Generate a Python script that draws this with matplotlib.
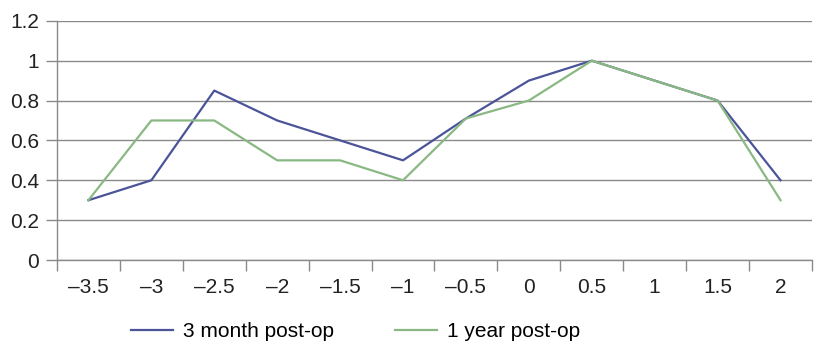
import numpy as np
import matplotlib
matplotlib.use("Agg")
import matplotlib.pyplot as plt

#---------------------------DATA------------------------------------
categories = ["–3.5", "–3", "–2.5", "–2", "–1.5", "–1", "–0.5", "0", "0.5", "1", "1.5", "2"]
three_month = [0.30, 0.40, 0.85, 0.70, 0.60, 0.50, 0.71, 0.90, 1.00, 0.90, 0.80, 0.40]
one_year = [0.30, 0.70, 0.70, 0.50, 0.50, 0.40, 0.71, 0.80, 1.00, 0.90, 0.80, 0.30]
y_ticks = [0, 0.2, 0.4, 0.6, 0.8, 1, 1.2]
y_labels = ["0", "0.2", "0.4", "0.6", "0.8", "1", "1.2"]

plt.rcParams['font.family'] = ['Liberation Sans', 'DejaVu Sans']

fig = plt.figure(figsize=(8.14, 3.41), dpi=100)
ax = fig.add_axes([0.070, 0.2375, 0.9275, 0.7015])

x = np.arange(len(categories))
gray = "#8a8a8a"
fs = 15

ax.plot(x, three_month, color="#4b5499", lw=1.6, label="3 month post-op")
ax.plot(x, one_year, color="#8ab883", lw=1.6, label="1 year post-op")

ax.set_xlim(-0.5, len(categories) - 0.5)
ax.set_ylim(0, 1.2)
ax.set_yticks(y_ticks)
ax.set_yticklabels(y_labels)
ax.yaxis.grid(True, color=gray, lw=1.0)
ax.set_axisbelow(True)

# category ticks between labels
ax.set_xticks(np.arange(-0.5, len(categories) + 0.5, 1.0))
ax.set_xticklabels([])
ax.set_xticks(x, minor=True)
ax.set_xticklabels(categories, minor=True)
ax.tick_params(axis="x", which="major", length=8, color=gray, width=1.0, direction="out")
ax.tick_params(axis="x", which="minor", length=0, labelsize=fs, pad=13, colors="#222222")
ax.tick_params(axis="y", length=8, color=gray, width=1.0, labelsize=fs, labelcolor="#222222", pad=5)

for s in ["top", "right"]:
    ax.spines[s].set_visible(False)
for s in ["left", "bottom"]:
    ax.spines[s].set_color(gray)
    ax.spines[s].set_linewidth(1.0)

fig.legend(loc="center", bbox_to_anchor=(0.437, 0.028), ncol=2, frameon=False,
           fontsize=fs, handlelength=2.0, handletextpad=0.5, columnspacing=2.95)

fig.savefig("out.png", dpi=100)
